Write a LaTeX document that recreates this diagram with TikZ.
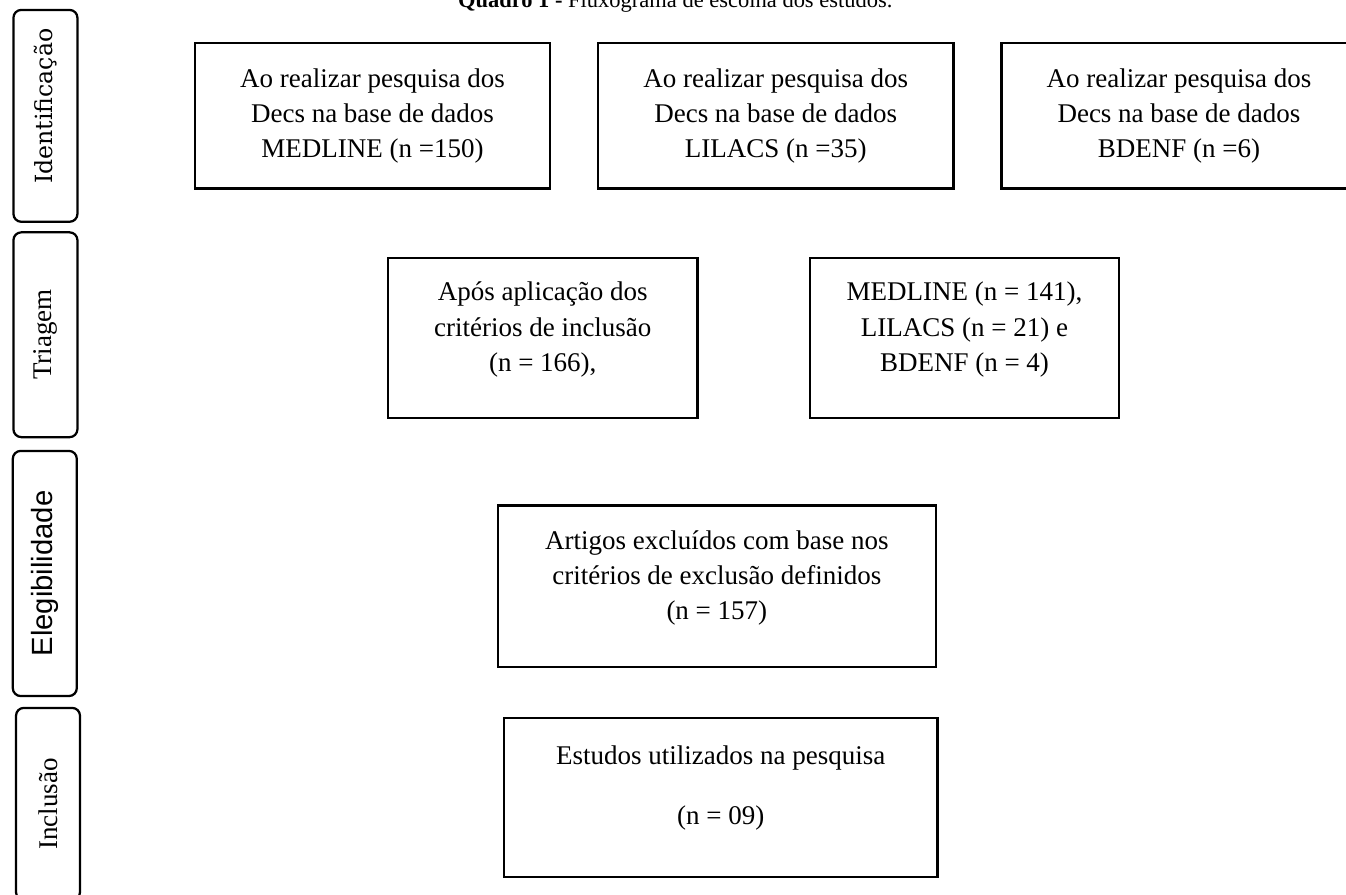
\documentclass[tikz,border=0pt]{standalone}
\usepackage{fontspec}
\setmainfont{Liberation Serif}
\newfontfamily\sansfonte{Liberation Sans}
\newfontfamily\largafonte{DejaVu Serif}
\usetikzlibrary{positioning}

\begin{document}
\begin{tikzpicture}[node distance=6.3cm,line width=1.1pt,
	caixa/.style={draw,rectangle,align=center,minimum width=5.55cm,minimum height=2.27cm,font=\fontsize{12}{15.7}\selectfont},
	etapa/.style={draw,rectangle,rounded corners=3.5pt,rotate=90,minimum height=1.0cm,line width=1pt,font=\fontsize{12}{14}\selectfont}]

\useasboundingbox (0,0) rectangle (21.03,-13.97);

\node[anchor=base](titulo) at (10.55,-0.125){\textbf{Quadro 1 -} Fluxograma de escolha dos estudos.};

\node[caixa](medline) at (5.82,-1.81){Ao realizar pesquisa dos\\Decs na base de dados\\MEDLINE (n =150)};
\node[caixa](lilacs)[right of=medline]{Ao realizar pesquisa dos\\Decs na base de dados\\LILACS (n =35)};
\node[caixa](bdenf)[right of=lilacs]{Ao realizar pesquisa dos\\Decs na base de dados\\BDENF (n =6)};

\node[caixa,minimum width=4.83cm,minimum height=2.5cm,text depth=10pt](aplic) at (8.48,-5.28){Após aplicação dos\\critérios de inclusão\\(n = 166),};
\node[caixa,minimum width=4.83cm,minimum height=2.5cm,text depth=10pt](bases)[right of=aplic,xshift=0.29cm]{MEDLINE (n = 141),\\LILACS (n = 21) e\\BDENF (n = 4)};
\node[caixa,minimum width=6.84cm,minimum height=2.53cm,text depth=10pt](excl) at (11.2,-9.16){Artigos excluídos com base nos\\critérios de exclusão definidos\\(n = 157)};
\node[caixa,minimum width=6.77cm,minimum height=2.48cm,text depth=11pt](incl) at (11.26,-12.46){Estudos utilizados na pesquisa\\[11.3pt](n = 09)};

\node[etapa,minimum width=3.31cm,font=\largafonte\fontsize{10.5}{12}\selectfont](idf) at (0.71,-1.81){\hspace{0.3cm}Identificação};
\node[etapa,minimum width=3.2cm](tri) at (0.71,-5.23){Triagem};
\node[etapa,minimum width=3.83cm,font=\sansfonte\fontsize{13}{15}\selectfont](eleg) at (0.70,-8.96){Elegibilidade};
\node[etapa,minimum width=3.0cm](inc) at (0.75,-12.56){Inclusão};

\end{tikzpicture}
\end{document}
